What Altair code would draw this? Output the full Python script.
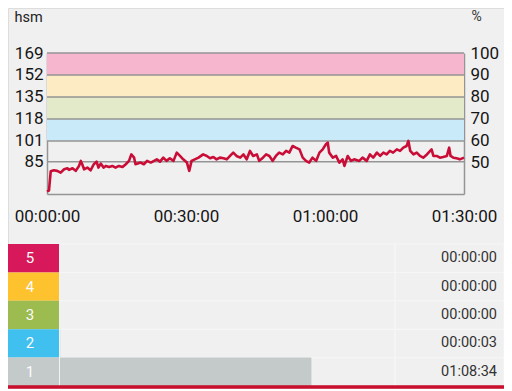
import altair as alt
import pandas as pd

# ---- data: (minute, heart rate) ----
hr_samples = [
    (0.0, 62), (0.43, 62.7), (0.8, 77.5), (1.15, 77.9), (1.5, 78.3), (2.2, 77.9),
    (2.95, 76.5), (3.7, 79.1), (4.4, 79.9), (4.75, 78.6), (5.5, 79.9), (6.2, 77.9),
    (6.9, 81.7), (7.3, 85.6), (7.6, 83.0), (8.0, 79.1), (8.7, 80.4), (9.4, 78.3),
    (10.1, 83.0), (10.7, 85.0), (11.1, 80.4), (11.6, 83.5), (12.2, 80.4), (12.7, 81.7),
    (13.4, 80.9), (14.1, 81.7), (14.8, 80.4), (15.5, 81.7), (16.3, 80.9), (17.0, 83.0),
    (17.7, 85.6), (18.2, 90.6), (18.8, 88.1), (19.1, 83.0), (20.2, 84.3), (20.9, 83.0),
    (21.6, 85.6), (22.4, 84.3), (23.1, 85.6), (23.7, 86.8), (24.4, 85.0), (25.1, 88.1),
    (25.8, 85.6), (26.5, 87.6), (27.3, 85.6), (28.0, 92.0), (28.7, 89.4), (29.4, 86.8),
    (30.2, 84.3), (30.7, 77.9), (31.2, 85.6), (31.9, 86.8), (32.7, 88.1), (33.7, 90.6),
    (34.5, 89.4), (35.2, 87.6), (35.9, 88.6), (36.6, 86.8), (37.3, 88.1), (38.1, 87.6),
    (38.8, 86.8), (39.5, 89.4), (40.2, 92.0), (40.9, 89.4), (41.7, 88.1), (42.4, 90.6),
    (43.1, 86.8), (43.8, 93.3), (44.5, 89.4), (45.3, 90.6), (45.8, 85.6), (46.6, 88.1),
    (47.3, 90.6), (48.0, 89.4), (48.7, 85.6), (49.4, 89.4), (50.1, 92.0), (50.9, 90.6),
    (51.6, 93.3), (52.3, 92.0), (53.0, 97.1), (53.7, 95.8), (54.5, 94.5), (55.2, 88.1),
    (55.9, 85.6), (56.6, 84.3), (57.3, 88.1), (58.1, 85.6), (58.8, 92.0), (59.5, 94.5),
    (60.2, 98.4), (60.6, 99.7), (60.9, 92.0), (61.7, 88.1), (62.4, 89.4), (63.1, 84.3),
    (63.8, 86.8), (64.2, 81.7), (64.9, 89.4), (65.6, 85.6), (66.3, 86.8), (67.4, 85.6),
    (68.1, 88.1), (69.0, 85.6), (69.7, 90.6), (70.4, 88.1), (71.2, 92.0), (71.9, 89.4),
    (72.6, 92.0), (73.3, 90.6), (74.0, 93.3), (74.7, 92.0), (75.5, 94.5), (76.2, 93.3),
    (76.9, 95.8), (77.6, 97.1), (78.0, 101.0), (78.4, 93.3), (79.1, 90.6), (79.8, 92.0),
    (80.5, 89.4), (81.2, 88.1), (82.0, 90.6), (82.7, 93.3), (83.0, 94.5), (83.4, 89.4),
    (84.1, 89.4), (84.8, 88.1), (85.5, 88.6), (86.3, 89.4), (86.8, 95.8), (87.1, 89.4),
    (87.7, 88.1), (88.4, 87.6), (89.1, 86.8), (90.0, 88.1),
]
minutes = [m for m, _ in hr_samples]
bpm = [b for _, b in hr_samples]

hr_min, hr_max = 60, 169
hr_ticks = [85, 101, 118, 135, 152, 169]
pct_ticks = [50, 60, 70, 80, 90, 100]
time_ticks = [0, 30, 60, 90]

band_lower = [101, 118, 135, 152]
band_upper = [118, 135, 152, 169]
band_colors = ["#c9eaf9", "#e2eac9", "#fcebc3", "#f6b6ce"]

zones = ["5", "4", "3", "2", "1"]
zone_seconds = [0, 0, 0, 3, 4114]
zone_labels = ["00:00:00", "00:00:00", "00:00:00", "00:00:03", "01:08:34"]
zone_colors = ["#d7195b", "#fdc22e", "#9dbc50", "#40c0ee", "#c4c9ca"]

# ---- layout ----
W, H = 496, 381
X_RANGE = [39, 456]
Y_RANGE = [186, 45]
ROW_RANGE = [236, 378]
FONT = "Roboto"
BORDER = "#959595"


def xs():
    return alt.Scale(domain=[time_ticks[0], time_ticks[-1]], range=X_RANGE, nice=False, zero=False)


def ys():
    return alt.Scale(domain=[hr_min, hr_max], range=Y_RANGE, nice=False, zero=False)


def rows():
    return alt.Scale(domain=zones, range=ROW_RANGE, paddingInner=0, paddingOuter=0)


line_df = pd.DataFrame({"min": minutes, "bpm": bpm})
line_df["pct"] = line_df["bpm"] / hr_max * 100

bands_df = pd.DataFrame({"lo": band_lower, "hi": band_upper, "color": band_colors,
                         "t0": time_ticks[0], "t1": time_ticks[-1]})
rules_df = pd.DataFrame({"hr": hr_ticks, "t0": time_ticks[0], "t1": time_ticks[-1]})
zone_df = pd.DataFrame({"zone": zones, "sec": zone_seconds, "label": zone_labels,
                        "color": zone_colors})

left_axis = alt.Axis(values=hr_ticks, orient="left", offset=-X_RANGE[0], domain=True,
                     domainColor=BORDER, domainWidth=1.5, ticks=False, tickSize=0, grid=False,
                     labelFont=FONT, labelFontSize=17, labelColor="#151515", labelPadding=4,
                     labelOverlap=False, title="hsm", titleAngle=0, titleAlign="left",
                     titleBaseline="alphabetic", titleX=6 - X_RANGE[0], titleY=13,
                     titleFont=FONT, titleFontSize=14.5, titleFontWeight="normal",
                     titleColor="#222222")

pct_lo = hr_min / hr_max * 100
right_axis = alt.Axis(values=pct_ticks, orient="right", offset=X_RANGE[1] - W, domain=True,
                      domainColor=BORDER, domainWidth=1.5, ticks=False, tickSize=0, grid=False,
                      labelFont=FONT, labelFontSize=17, labelColor="#151515", labelPadding=6,
                      labelOverlap=False, title="%", titleAngle=0, titleAlign="left",
                      titleBaseline="alphabetic", titleX=7, titleY=12,
                      titleFont=FONT, titleFontSize=14, titleFontWeight="normal",
                      titleColor="#333333")

x_axis = alt.Axis(values=time_ticks, orient="bottom", offset=Y_RANGE[0] - H, domain=True,
                  domainColor=BORDER, domainWidth=1.5, ticks=False, tickSize=0, grid=False,
                  labelExpr="utcFormat(datum.value * 60000, '%H:%M:%S')",
                  labelFlush=False, labelOverlap=False, labelFont=FONT, labelFontSize=17,
                  labelColor="#151515", labelPadding=14, title=None)

bands = alt.Chart(bands_df).mark_rect().encode(
    x=alt.X("t0:Q", scale=xs(), axis=None), x2="t1:Q",
    y=alt.Y("lo:Q", scale=ys(), axis=None), y2="hi:Q",
    color=alt.Color("color:N", scale=None),
)

rules = alt.Chart(rules_df).mark_rule(color=BORDER, strokeWidth=1.5).encode(
    x=alt.X("t0:Q", scale=xs(), axis=None), x2="t1:Q",
    y=alt.Y("hr:Q", scale=ys(), axis=left_axis),
)

line = alt.Chart(line_df).mark_line(color="#c90d37", strokeWidth=2.6, strokeJoin="round").encode(
    x=alt.X("min:Q", scale=xs(), axis=x_axis),
    y=alt.Y("bpm:Q", scale=ys(), axis=None),
)

pct = alt.Chart(line_df).mark_line(opacity=0).encode(
    x=alt.X("min:Q", scale=xs(), axis=None),
    y=alt.Y("pct:Q", scale=alt.Scale(domain=[pct_lo, 100], range=Y_RANGE, nice=False, zero=False),
            axis=right_axis),
)

cells_a = alt.Chart(zone_df).mark_rect(fillOpacity=0, stroke="#f6f6f6", strokeWidth=1).encode(
    x=alt.value(51), x2=alt.value(387), y=alt.Y("zone:N", scale=rows(), axis=None),
)
cells_b = alt.Chart(zone_df).mark_rect(fillOpacity=0, stroke="#f6f6f6", strokeWidth=1).encode(
    x=alt.value(387), x2=alt.value(W), y=alt.Y("zone:N", scale=rows(), axis=None),
)

boxes = alt.Chart(zone_df).mark_rect().encode(
    x=alt.value(0), x2=alt.value(51),
    y=alt.Y("zone:N", scale=rows(), axis=None),
    color=alt.Color("color:N", scale=None),
)

zone_bars = alt.Chart(zone_df).mark_bar(color="#c4c9ca").encode(
    x=alt.X("sec:Q", scale=alt.Scale(domain=[0, 5400], range=[52, 382], nice=False), axis=None),
    y=alt.Y("zone:N", scale=rows(), axis=None),
)

zone_nums = alt.Chart(zone_df).mark_text(align="center", baseline="middle", font=FONT,
                                         fontSize=15, color="#fbfbfb").encode(
    x=alt.value(22), y=alt.Y("zone:N", scale=rows(), axis=None), text="zone:N",
)

zone_times = alt.Chart(zone_df).mark_text(align="right", baseline="middle", font=FONT,
                                          fontSize=14.5, color="#333333").encode(
    x=alt.value(489), y=alt.Y("zone:N", scale=rows(), axis=None), text="label:N",
)

red_line = alt.Chart(zone_df).mark_rule(color="#c8102e", strokeWidth=2.5).encode(
    x=alt.value(0), x2=alt.value(W), y=alt.value(379),
)

chart = alt.layer(
    bands, rules, line, pct,
    cells_a, cells_b, zone_bars, boxes, zone_nums, zone_times, red_line,
).resolve_scale(
    x="independent", y="independent"
).properties(
    width=W, height=H, autosize=alt.AutoSizeParams(type="none"), padding=0,
    background="#f0f0f0",
).configure_view(stroke="transparent").configure(font=FONT)

chart.save("out.html", embed_options={"renderer": "svg", "actions": False})
